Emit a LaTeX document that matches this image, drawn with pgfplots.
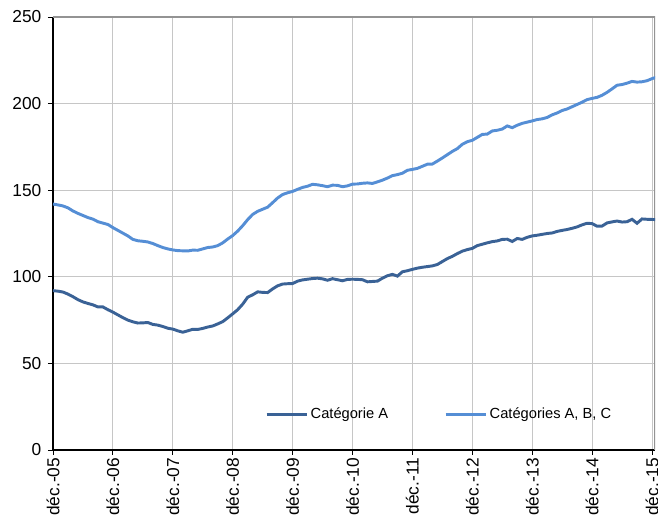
\documentclass[border=0pt]{standalone}
\usepackage{fontspec}
\setmainfont{Liberation Sans}
\usepackage{pgfplots}
\usepackage{pgfplotstable}
\pgfplotsset{compat=1.18}

\definecolor{catA}{HTML}{3A6296}
\definecolor{catABC}{HTML}{558ED5}
\definecolor{gridgray}{HTML}{C6C6C6}

% mois depuis déc. 2005, catégorie A, catégories A B C
\pgfplotstableread{
m a abc
0 92.0 142.0
1 91.7 141.5
2 91.2 140.9
3 90.0 139.8
4 88.5 138.0
5 86.8 136.6
6 85.5 135.4
7 84.6 134.2
8 83.8 133.3
9 82.6 131.8
10 82.6 131.0
11 81.0 130.2
12 79.6 128.4
13 78.0 126.8
14 76.4 125.2
15 75.0 123.6
16 74.0 121.6
17 73.3 120.8
18 73.4 120.5
19 73.6 120.1
20 72.5 119.2
21 72.1 118.0
22 71.3 116.9
23 70.3 116.1
24 69.8 115.5
25 68.8 115.1
26 68.0 115.0
27 68.8 114.9
28 69.7 115.4
29 69.6 115.3
30 70.2 116.1
31 71.0 116.9
32 71.6 117.2
33 72.8 118.0
34 74.1 119.6
35 76.3 121.8
36 78.6 123.8
37 81.0 126.4
38 84.2 129.5
39 88.2 133.0
40 89.6 136.0
41 91.3 137.8
42 91.0 139.0
43 90.9 140.2
44 93.0 142.8
45 94.8 145.5
46 95.8 147.5
47 96.0 148.5
48 96.1 149.3
49 97.5 150.5
50 98.2 151.6
51 98.6 152.3
52 99.0 153.4
53 99.2 153.1
54 98.8 152.6
55 98.0 152.0
56 98.9 152.9
57 98.3 152.8
58 97.7 152.0
59 98.5 152.5
60 98.6 153.5
61 98.5 153.6
62 98.3 154.0
63 97.1 154.2
64 97.3 153.9
65 97.5 154.8
66 99.2 155.8
67 100.6 157.0
68 101.4 158.4
69 100.4 159.0
70 102.9 159.8
71 103.5 161.5
72 104.3 162.0
73 105.0 162.6
74 105.5 163.8
75 105.9 165.0
76 106.3 165.1
77 107.1 166.8
78 108.8 168.6
79 110.5 170.5
80 111.8 172.4
81 113.4 174.0
82 114.8 176.5
83 115.7 178.0
84 116.4 178.8
85 118.0 180.5
86 118.8 182.2
87 119.6 182.4
88 120.3 184.2
89 120.7 184.6
90 121.6 185.3
91 121.7 187.1
92 120.4 186.1
93 122.1 187.5
94 121.6 188.6
95 122.8 189.3
96 123.6 190.0
97 124.0 190.8
98 124.5 191.2
99 125.0 192.0
100 125.3 193.5
101 126.2 194.6
102 126.8 196.0
103 127.3 196.9
104 128.0 198.2
105 128.8 199.5
106 130.0 200.8
107 130.9 202.3
108 130.7 203.0
109 129.2 203.6
110 129.3 204.8
111 131.1 206.5
112 131.7 208.5
113 132.2 210.6
114 131.6 211.0
115 131.8 211.8
116 133.2 212.8
117 130.9 212.4
118 133.4 212.6
119 133.2 213.2
120 133.1 214.4
121 133.0 215.3
}\chomage

\begin{document}
\begin{tikzpicture}[font=\fontsize{11}{13}\selectfont]
\path[use as bounding box] (-39.75pt,-49.5pt) rectangle (453.75pt,337.5pt);
\begin{axis}[
  at={(0,0)}, anchor=south west,
  scale only axis,
  width=451.5pt, height=324.75pt,
  xmin=0, xmax=120.6,
  ymin=0, ymax=250,
  xtick={0,12,...,120},
  xticklabels={déc.-05,déc.-06,déc.-07,déc.-08,déc.-09,déc.-10,déc.-11,déc.-12,déc.-13,déc.-14,déc.-15},
  ytick={0,50,...,250},
  ticklabel style={font=\fontsize{13}{15}\selectfont},
  xticklabel style={rotate=90, anchor=east, inner sep=2pt},
  yticklabel style={xshift=-1.5pt},
  /pgf/number format/assume math mode=true,
  axis x line*=bottom, axis y line*=left,
  axis line style={-, black, line width=0.8pt},
  tick align=outside,
  major tick length=3.75pt,
  tick style={black, line width=0.6pt},
  grid=major,
  major grid style={gridgray, line width=0.6pt},
  legend columns=2,
  legend style={draw=none, fill=none, at={(0.642,0.083)}, anchor=center,
    font=\fontsize{11}{13}\selectfont,
    /tikz/every even column/.append style={column sep=40pt}},
  legend image code/.code={\draw[#1] (0pt,0pt) -- (30pt,0pt);},
]
\draw[gray!85, line width=0.8pt] (rel axis cs:0,1) -- (rel axis cs:1,1) -- (rel axis cs:1,0);
\addplot[catA, line width=2.2pt] table[x=m, y=a] {\chomage};
\addlegendentry{Catégorie A}
\addplot[catABC, line width=2.2pt] table[x=m, y=abc] {\chomage};
\addlegendentry{Catégories A, B, C}
\end{axis}
\end{tikzpicture}
\end{document}
